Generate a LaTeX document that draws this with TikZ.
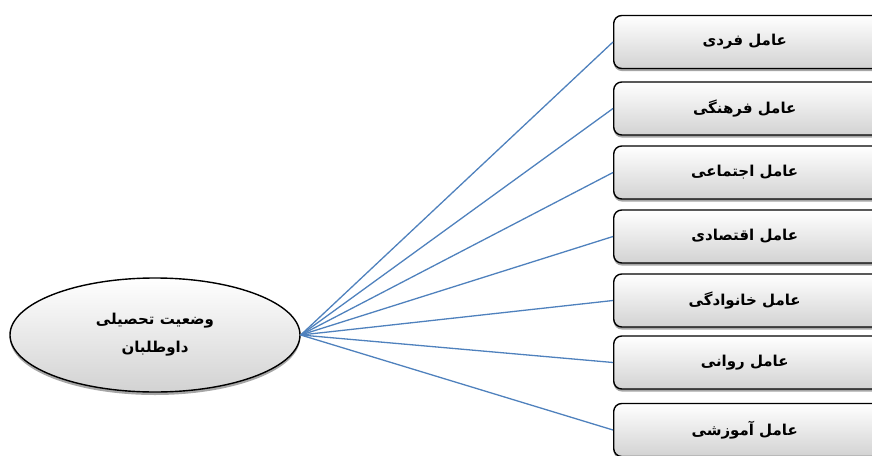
\documentclass[tikz,border=0pt]{standalone}
\usepackage{fontspec}
\usetikzlibrary{shapes.geometric,shadows}
\TeXXeTstate=1
\newfontfamily\fa[Script=Arabic]{DejaVu Sans}
\definecolor{linkblue}{RGB}{79,129,189}
\tikzset{
  factorbox/.style={draw=black, line width=1.4pt, rounded corners=8pt,
    minimum width=270pt, minimum height=53pt, top color=white, bottom color=gray!35,
    drop shadow={shadow xshift=0pt, shadow yshift=-2.5pt, fill=gray!70, opacity=1},
    font=\fa\bfseries\fontsize{15}{18}\selectfont, text=black},
  mainell/.style={ellipse, draw=black, line width=1.4pt, minimum width=290pt, minimum height=114pt,
    top color=white, bottom color=gray!35,
    drop shadow={shadow xshift=0pt, shadow yshift=-3pt, fill=gray!70, opacity=1},
    font=\fa\bfseries\fontsize{15}{28}\selectfont, align=center, text=black},
  link/.style={draw=linkblue, line width=1.3pt}
}
\begin{document}
\begin{tikzpicture}[x=1pt,y=-1pt]
\useasboundingbox (0,0) rectangle (872,455);
\clip (0,0) rectangle (872,455);
\node[mainell] (e) at (155,335) {\beginR وضعیت تحصیلی\endR\\\beginR داوطلبان\endR};
\node[factorbox, anchor=west] (b1) at (613,42) {\hspace*{-8pt}\beginR عامل فردی\endR};
\node[factorbox, anchor=west] (b2) at (613,108.5) {\hspace*{-8pt}\beginR عامل فرهنگی\endR};
\node[factorbox, anchor=west] (b3) at (613,172.5) {\hspace*{-8pt}\beginR عامل اجتماعی\endR};
\node[factorbox, anchor=west] (b4) at (613,236.5) {\hspace*{-8pt}\beginR عامل اقتصادی\endR};
\node[factorbox, anchor=west] (b5) at (613,300.5) {\hspace*{-8pt}\beginR عامل خانوادگی\endR};
\node[factorbox, anchor=west] (b6) at (613,362.5) {\hspace*{-8pt}\beginR عامل روانی\endR};
\node[factorbox, anchor=west] (b7) at (613,430) {\hspace*{-8pt}\beginR عامل آموزشی\endR};
\foreach \i in {1,...,7} {\draw[link] (e.east) -- (b\i.west);}
\end{tikzpicture}
\end{document}
